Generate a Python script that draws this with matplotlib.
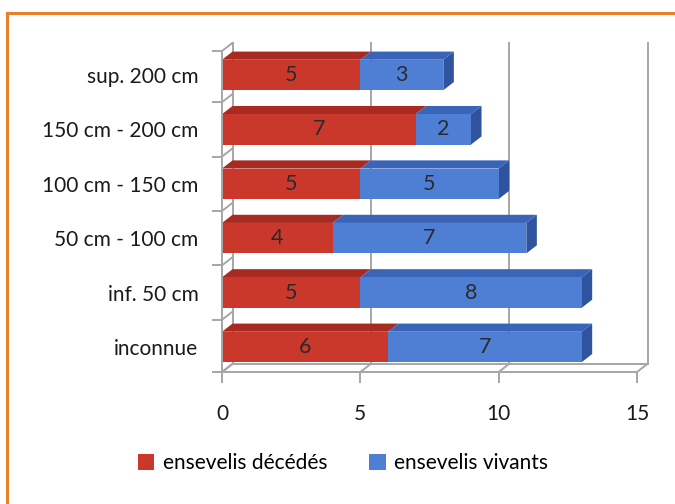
import matplotlib
matplotlib.use("Agg")
import matplotlib.pyplot as plt
from matplotlib.patches import Polygon, Patch
from matplotlib.lines import Line2D
import numpy as np

categories = ["inconnue", "inf. 50 cm", "50 cm - 100 cm", "100 cm - 150 cm", "150 cm - 200 cm", "sup. 200 cm"]
deceased = [6, 5, 4, 5, 7, 5]
alive = [7, 8, 7, 5, 2, 3]
series_names = ["ensevelis décédés", "ensevelis vivants"]
xticks = [0, 5, 10, 15]

plt.rcParams['font.family'] = ['Lato', 'DejaVu Sans']

W, H = 675, 504
fig = plt.figure(figsize=(W / 100, H / 100), dpi=100)
y0, y1 = -0.46, 5.44
ytop = 5.66
ppu = 54.4
ax = fig.add_axes([222 / W, 1 - 372 / H, (637 - 222) / W, (ytop - y0) * ppu / H])
ax.set_xlim(0, 15)
ax.set_ylim(y0, ytop)

dx, dy = 0.38, 0.15
bh = 0.56
grey = "#A6A6A6"
red_front, red_top = "#C9382B", "#A82A20"
blue_front, blue_top, blue_side = "#4F7FD4", "#3A64B8", "#2F539E"

bounds = [y0] + [i + 0.5 for i in range(len(categories) - 1)] + [y1]

# back wall gridlines
for xv in xticks:
    ax.plot([xv + dx, xv + dx], [y0 + dy, y1 + dy], color=grey, lw=1.4, zorder=1, clip_on=False)
# floor back line and diagonals
ax.plot([dx, 15 + dx], [y0 + dy, y0 + dy], color=grey, lw=1.4, zorder=1, clip_on=False)
for xv in xticks:
    ax.plot([xv, xv + dx], [y0, y0 + dy], color=grey, lw=1.4, zorder=1, clip_on=False)
# left wall diagonals
for yb in bounds:
    ax.plot([0, dx], [yb, yb + dy], color=grey, lw=1.4, zorder=1, clip_on=False)

y = np.arange(len(categories))
left = np.zeros(len(categories))
for vals, front, top in [(deceased, red_front, red_top), (alive, blue_front, blue_top)]:
    vals = np.array(vals, dtype=float)
    ax.barh(y, vals, left=left, height=bh, color=front, zorder=3)
    for yi, l, v in zip(y, left, vals):
        r = l + v
        yt = yi + bh / 2
        ax.add_patch(Polygon([(l, yt), (r, yt), (r + dx, yt + dy), (l + dx, yt + dy)],
                             closed=True, facecolor=top, edgecolor="none", zorder=2.5))
        ax.text(l + v / 2, yi, f"{int(v)}", ha="center", va="center", fontsize=15.5, color="#2A2A2A", zorder=5)
    left = left + vals

# right side faces
for yi, r in zip(y, left):
    yb, yt = yi - bh / 2, yi + bh / 2
    ax.add_patch(Polygon([(r, yb), (r + dx, yb + dy), (r + dx, yt + dy), (r, yt)],
                         closed=True, facecolor=blue_side, edgecolor="none", zorder=2.5))

for s in ["top", "right"]:
    ax.spines[s].set_visible(False)
ax.spines["left"].set_bounds(y0, y1)
ax.spines["bottom"].set_bounds(0, 15)
for s in ["left", "bottom"]:
    ax.spines[s].set_color(grey)
    ax.spines[s].set_linewidth(1.4)
    ax.spines[s].set_zorder(4)

ax.set_xticks(xticks)
ax.set_xticklabels([str(t) for t in xticks], fontsize=15)
ax.tick_params(axis="x", direction="out", length=8, width=1.4, color=grey, pad=15, labelcolor="#1A1A1A")
ax.set_yticks(y)
ax.set_yticklabels(categories, fontsize=15)
ax.tick_params(axis="y", length=0, pad=17, labelcolor="#1A1A1A")
ax.set_yticks(bounds, minor=True)
ax.tick_params(axis="y", which="minor", direction="out", length=7, width=1.4, color=grey)
ax.patch.set_visible(False)

handles = [Patch(facecolor=red_front), Patch(facecolor=blue_front)]
fig.legend(handles, series_names, loc="center", bbox_to_anchor=(0.508, 0.081), ncol=2, frameon=False,
           fontsize=15, handlelength=0.8, handleheight=0.8, handletextpad=0.4, columnspacing=2.0)

orange = "#E8822A"
fig.add_artist(Line2D([7 / W, 1.0], [1 - 13 / H, 1 - 13 / H], color=orange, lw=2.2, transform=fig.transFigure))
fig.add_artist(Line2D([7 / W, 7 / W], [0.0, 1 - 13 / H], color=orange, lw=2.2, transform=fig.transFigure))

fig.savefig("out.png", dpi=100)
